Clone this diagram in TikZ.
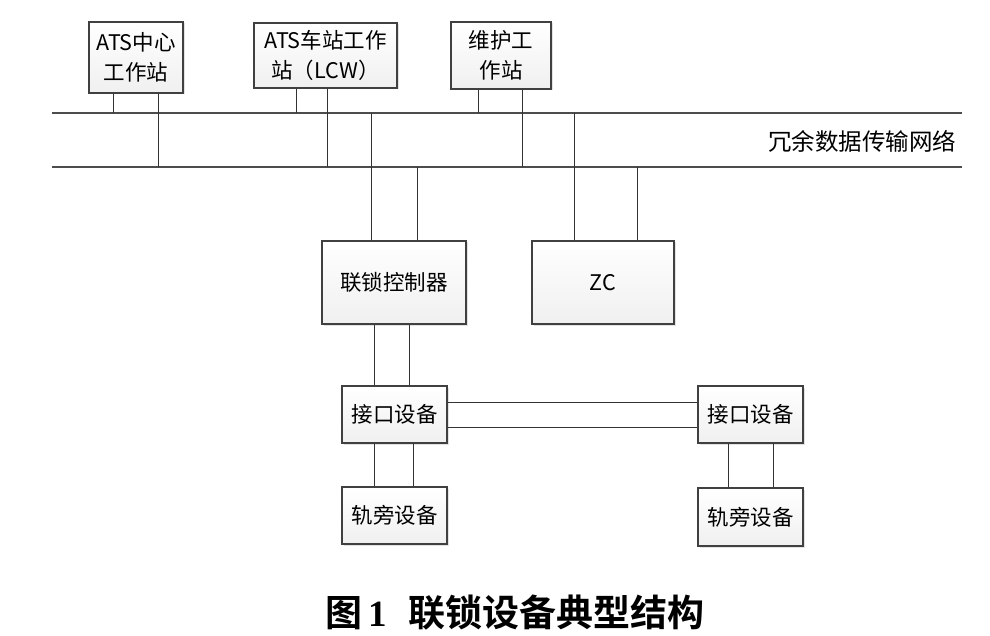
\documentclass[tikz,border=0pt]{standalone}
\usepackage{fontspec}
\newfontfamily\cjk{Noto Sans CJK SC}
\newfontfamily\cjkbold{Noto Sans CJK SC Bold}
\newfontfamily\serifnum{Liberation Serif}
\usetikzlibrary{positioning,calc,shadows}

\begin{document}
\begin{tikzpicture}[x=1pt,y=-1pt,
	box/.style={draw=black!75,line width=1.2pt,align=center,inner sep=0pt,
		top color=white,bottom color=gray!12,
		drop shadow={shadow xshift=1.5pt,shadow yshift=-1.5pt,fill=gray!45},
		font=\cjk\fontsize{21.5}{30}\selectfont},
	bus/.style={draw=black!70,line width=1.3pt},
	wire/.style={draw=black!80,line width=0.9pt}]
	\useasboundingbox (0,0) rectangle (990,636);

	% bus
	\coordinate (busT west) at (52,113);
	\coordinate (busT east) at (962,113);
	\coordinate (busB west) at (52,167);
	\coordinate (busB east) at (962,167);
	\draw[bus] (busT west) -- (busT east);
	\draw[bus] (busB west) -- (busB east);
	\node[font=\cjk\fontsize{23.5}{26}\selectfont,anchor=east] (net) at (960,141) {冗余数据传输网络};

	% workstations
	\node[box,minimum width=94,minimum height=71] (atsc) at (136,57.5) {ATS中心\\工作站};
	\node[box,minimum width=143,minimum height=65] (lcw) at (325.5,55.5) {ATS车站工作\\站（LCW）};
	\node[box,minimum width=100,minimum height=67] (maint) at (501,55.5) {维护工\\作站};

	\draw[wire] ([xshift=-23]atsc.south) -- ([xshift=-23]atsc.south |- busT west);
	\draw[wire] ([xshift=22]atsc.south) -- ([xshift=22]atsc.south |- busB west);
	\draw[wire] ([xshift=-29.5]lcw.south) -- ([xshift=-29.5]lcw.south |- busT west);
	\draw[wire] ([xshift=1.5]lcw.south) -- ([xshift=1.5]lcw.south |- busB west);
	\draw[wire] ([xshift=-23]maint.south) -- ([xshift=-23]maint.south |- busT west);
	\draw[wire] ([xshift=21]maint.south) -- ([xshift=21]maint.south |- busB west);

	% controllers
	\node[box,minimum width=144,minimum height=83] (ilk) at (394,282.5) {联锁控制器};
	\node[box,minimum width=142,minimum height=83] (zc) at (603,282.5) {ZC};

	\draw[wire] ([xshift=-23]ilk.north) -- ([xshift=-23]ilk.north |- busT west);
	\draw[wire] ([xshift=23]ilk.north) -- ([xshift=23]ilk.north |- busB west);
	\draw[wire] ([xshift=-29]zc.north) -- ([xshift=-29]zc.north |- busT west);
	\draw[wire] ([xshift=34]zc.north) -- ([xshift=34]zc.north |- busB west);

	% interface and trackside
	\node[box,minimum width=105,minimum height=57] (ifc1) at (394.5,414.5) {接口设备};
	\node[box,minimum width=105,minimum height=57] (ifc2) at (750.5,414.5) {接口设备};
	\node[box,minimum width=105,minimum height=57] (trk1) at (394.5,515.5) {轨旁设备};
	\node[box,minimum width=105,minimum height=58] (trk2) at (750.5,517) {轨旁设备};

	\draw[wire] ([xshift=-20]ilk.south) -- ([xshift=-20]ilk.south |- ifc1.north);
	\draw[wire] ([xshift=15]ilk.south) -- ([xshift=15]ilk.south |- ifc1.north);
	\draw[wire] ([yshift=-12.5]ifc1.east) -- ([yshift=-12.5]ifc1.east -| ifc2.west);
	\draw[wire] ([yshift=12.5]ifc1.east) -- ([yshift=12.5]ifc1.east -| ifc2.west);
	\draw[wire] ([xshift=-20.5]ifc1.south) -- ([xshift=-20.5]ifc1.south |- trk1.north);
	\draw[wire] ([xshift=18.5]ifc1.south) -- ([xshift=18.5]ifc1.south |- trk1.north);
	\draw[wire] ([xshift=-22.5]ifc2.south) -- ([xshift=-22.5]ifc2.south |- trk2.north);
	\draw[wire] ([xshift=22.5]ifc2.south) -- ([xshift=22.5]ifc2.south |- trk2.north);

	% caption
	\node[font=\cjkbold\fontsize{37}{40}\selectfont] (cap) at (515,613) {图\,{\serifnum\bfseries 1}\hspace{0.6em}联锁设备典型结构};
\end{tikzpicture}
\end{document}
